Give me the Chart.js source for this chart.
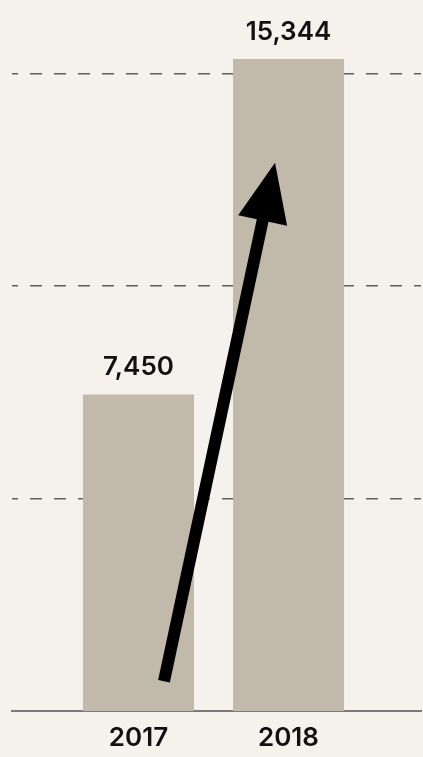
<!DOCTYPE html>
<html>
<head>
<meta charset="utf-8">
<script src="https://cdn.jsdelivr.net/npm/chart.js@4"></script>
<style>
  html, body { margin: 0; padding: 0; background: #f5f1ed; }
  #wrap { width: 423px; height: 757px; }
</style>
</head>
<body>
<div id="wrap"><canvas id="growthChart"></canvas></div>
<script>
const years = [2017, 2018];
const counts = [7450, 15344];
const gridValues = [5000, 10000, 15000];
// arrow drawn in data space: from near the 2017 base up into the 2018 bar
const arrowFrom = { x: 2017.17, y: 700 };
const arrowTo = { x: 2017.91, y: 12900 };

const FONT = 'Inter, "Noto Sans", sans-serif';

const valueLabels = {
    id: 'valueLabels',
    afterDatasetsDraw(chart) {
        const ctx = chart.ctx;
        const meta = chart.getDatasetMeta(0);
        ctx.save();
        ctx.fillStyle = '#111';
        ctx.font = '600 26px ' + FONT;
        ctx.textAlign = 'center';
        ctx.textBaseline = 'alphabetic';
        meta.data.forEach((bar, i) => {
            ctx.fillText(counts[i].toLocaleString('en-US'), bar.x, bar.y - 19);
        });
        ctx.restore();
    }
};

const trendArrow = {
    id: 'trendArrow',
    afterDatasetsDraw(chart) {
        const x = chart.scales.x, y = chart.scales.y;
        const x1 = x.getPixelForValue(arrowFrom.x), y1 = y.getPixelForValue(arrowFrom.y);
        const x2 = x.getPixelForValue(arrowTo.x), y2 = y.getPixelForValue(arrowTo.y);
        const ang = Math.atan2(y2 - y1, x2 - x1);
        const headLen = 59, headHalf = 25;
        const bx = x2 - headLen * Math.cos(ang), by = y2 - headLen * Math.sin(ang);
        const ctx = chart.ctx;
        ctx.save();
        ctx.strokeStyle = '#000';
        ctx.fillStyle = '#000';
        ctx.lineWidth = 12;
        ctx.lineCap = 'butt';
        ctx.beginPath();
        ctx.moveTo(x1, y1);
        ctx.lineTo(bx + 4 * Math.cos(ang), by + 4 * Math.sin(ang));
        ctx.stroke();
        ctx.beginPath();
        ctx.moveTo(x2, y2);
        ctx.lineTo(bx + headHalf * Math.sin(ang), by - headHalf * Math.cos(ang));
        ctx.lineTo(bx - headHalf * Math.sin(ang), by + headHalf * Math.cos(ang));
        ctx.closePath();
        ctx.fill();
        ctx.restore();
    }
};

new Chart(document.getElementById('growthChart'), {
    type: 'bar',
    data: {
        datasets: [{
            data: years.map((yr, i) => ({ x: yr, y: counts[i] })),
            backgroundColor: '#c1baaa',
            borderWidth: 0,
            barPercentage: 0.74,
            categoryPercentage: 1
        }]
    },
    options: {
        responsive: true,
        maintainAspectRatio: false,
        animation: false,
        layout: { padding: { left: 12, right: 2, top: 0, bottom: 0 } },
        plugins: { legend: { display: false }, tooltip: { enabled: false } },
        scales: {
            x: {
                type: 'linear',
                offset: false,
                min: 2016.157,
                max: 2018.883,
                afterBuildTicks: s => { s.ticks = years.map(v => ({ value: v })); },
                afterFit: s => { s.height = 46; },
                grid: { display: false, drawTicks: false },
                border: { display: true, color: '#7a7a7a', width: 2 },
                ticks: {
                    padding: 12,
                    color: '#111',
                    font: { family: FONT, size: 26, weight: '600' },
                    callback: v => String(v)
                }
            },
            y: {
                min: 0,
                max: 16730,
                afterBuildTicks: s => { s.ticks = gridValues.map(v => ({ value: v })); },
                grid: { color: '#5f5f5f', lineWidth: 1.5, drawTicks: false },
                border: { display: false, dash: [12, 12], dashOffset: 6 },
                ticks: { display: false }
            }
        }
    },
    plugins: [valueLabels, trendArrow]
});
</script>
</body>
</html>
